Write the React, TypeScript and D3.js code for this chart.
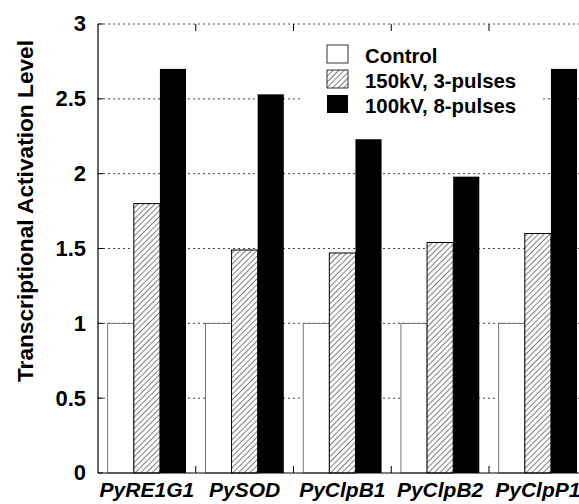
import React from 'react';
import * as d3 from 'd3';

const genes = ['PyRE1G1', 'PySOD', 'PyClpB1', 'PyClpB2', 'PyClpP1'];
const seriesNames = ['Control', '150kV, 3-pulses', '100kV, 8-pulses'];
const control = [1, 1, 1, 1, 1];
const kv150 = [1.8, 1.49, 1.47, 1.54, 1.6];
const kv100 = [2.7, 2.53, 2.23, 1.98, 2.7];
const yTicks = [0, 0.5, 1, 1.5, 2, 2.5, 3];
const yTickLabels = ['0', '0.5', '1', '1.5', '2', '2.5', '3'];

const W = 579;
const H = 504;
const left = 98;
const top = 24;
const bottom = 473;
const band = 97.75;

const fills = ['#fff', 'url(#hatch)', '#000'];

export default function App() {
  const values = [control, kv150, kv100];
  const x = d3.scaleBand<string>().domain(genes).range([left, left + band * genes.length]);
  const inner = d3.scaleBand<number>().domain([0, 1, 2]).range([9.7, band - 9.7]);
  const y = d3.scaleLinear().domain([0, 3]).range([bottom, top]);
  const right = left + band * genes.length;
  const font = 'Arial, "Liberation Sans", sans-serif';

  return (
    <svg width={W} height={H} style={{ position: 'absolute', left: 0, top: 0, background: '#fff' }}>
      <defs>
        <pattern id="hatch" patternUnits="userSpaceOnUse" width={4} height={4} patternTransform="rotate(45)">
          <rect width={4} height={4} fill="#fff" />
          <line x1={0} y1={0} x2={0} y2={4} stroke="#000" strokeWidth={1} />
        </pattern>
      </defs>
      {/* grid */}
      {yTicks.slice(1).map(t => (
        <line key={t} x1={left} x2={right} y1={y(t)} y2={y(t)} stroke="#444" strokeWidth={1} strokeDasharray="2,3" />
      ))}
      {/* legend background */}
      <rect x={303} y={38} width={238} height={82} fill="#fff" />
      {/* bars */}
      {genes.map((g, i) => (
        <g key={g} transform={`translate(${x(g)},0)`}>
          {values.map((vals, s) => (
            <rect
              key={s}
              x={inner(s)}
              y={y(vals[i])}
              width={inner.bandwidth()}
              height={bottom - y(vals[i])}
              fill={fills[s]}
              stroke={s === 2 ? 'none' : s === 0 ? '#555' : '#000'}
              strokeWidth={s === 0 ? 0.8 : 1}
            />
          ))}
        </g>
      ))}
      {/* axes */}
      <line x1={left} x2={left} y1={top} y2={bottom} stroke="#000" strokeWidth={1.2} />
      <line x1={left} x2={right} y1={bottom} y2={bottom} stroke="#000" strokeWidth={1.2} />
      {yTicks.map(t => (
        <line key={t} x1={left} x2={left + 5} y1={y(t)} y2={y(t)} stroke="#000" />
      ))}
      {genes.slice(1).map(g => (
        <g key={g}>
          <line x1={x(g)} x2={x(g)} y1={bottom} y2={bottom - 7} stroke="#000" />
          <line x1={x(g)} x2={x(g)} y1={top} y2={top + 7} stroke="#000" />
        </g>
      ))}
      {yTicks.map((t, i) => (
        <text key={t} x={86} y={y(t) - 0.5} dy="0.36em" textAnchor="end" fontFamily={font} fontWeight="bold" fontSize={22}>
          {yTickLabels[i]}
        </text>
      ))}
      {genes.map(g => (
        <text key={g} x={(x(g) as number) + band / 2} y={497} textAnchor="middle" fontFamily={font} fontWeight="bold" fontStyle="italic" fontSize={21}>
          {g}
        </text>
      ))}
      <text transform={`translate(33,211) rotate(-90)`} textAnchor="middle" fontFamily={font} fontWeight="bold" fontSize={22.7}>
        Transcriptional Activation Level
      </text>
      {/* legend */}
      {seriesNames.map((n, i) => (
        <g key={n} transform={`translate(327,${45 + i * 25})`}>
          <rect x={0} y={0} width={21} height={18} fill={fills[i]} stroke={i === 2 ? 'none' : '#000'} strokeWidth={0.8} />
          <text x={38} y={18} fontFamily={font} fontWeight="bold" fontSize={20.4}>
            {n}
          </text>
        </g>
      ))}
    </svg>
  );
}
